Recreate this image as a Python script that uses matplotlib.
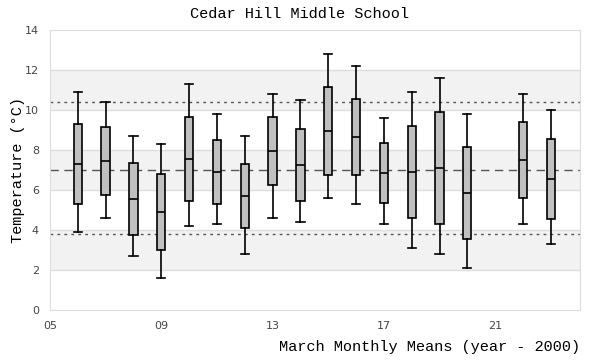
import matplotlib.pyplot as plt

years = [6, 7, 8, 9, 10, 11, 12, 13, 14, 15, 16, 17, 18, 19, 20, 22, 23]
whislo = [3.9, 4.6, 2.7, 1.6, 4.2, 4.3, 2.8, 4.6, 4.4, 5.6, 5.3, 4.3, 3.1, 2.8, 2.1, 4.3, 3.3]
q1 = [5.3, 5.75, 3.75, 3.0, 5.45, 5.3, 4.1, 6.25, 5.45, 6.75, 6.75, 5.35, 4.6, 4.3, 3.55, 5.6, 4.55]
med = [7.3, 7.45, 5.55, 4.9, 7.55, 6.9, 5.7, 7.95, 7.25, 8.95, 8.65, 6.85, 6.9, 7.1, 5.85, 7.5, 6.55]
q3 = [9.3, 9.15, 7.35, 6.8, 9.65, 8.5, 7.3, 9.65, 9.05, 11.15, 10.55, 8.35, 9.2, 9.9, 8.15, 9.4, 8.55]
whishi = [10.9, 10.4, 8.7, 8.3, 11.3, 9.8, 8.7, 10.8, 10.5, 12.8, 12.2, 9.6, 10.9, 11.6, 9.8, 10.8, 10.0]

mean_line = 7.0
upper_line = 10.4
lower_line = 3.8

xticks = [5, 9, 13, 17, 21]
xticklabels = ["05", "09", "13", "17", "21"]
yticks = [0, 2, 4, 6, 8, 10, 12, 14]

mono = "Liberation Mono"


def main():
    fig = plt.figure(figsize=(6, 3.6), dpi=100)
    ax = fig.add_axes([50 / 600, 50 / 360, 530 / 600, 280 / 360])

    # shaded bands
    for lo in (2, 6, 10):
        ax.axhspan(lo, lo + 2, color="#f2f2f2", zorder=0, lw=0)
    for y in yticks[1:-1]:
        ax.axhline(y, color="#dddddd", lw=1, zorder=0.5)

    ax.axhline(upper_line, color="#555555", lw=1, ls=(0, (2, 3)), zorder=1)
    ax.axhline(lower_line, color="#555555", lw=1, ls=(0, (2, 3)), zorder=1)
    ax.axhline(mean_line, color="#555555", lw=1, ls=(0, (6, 4)), zorder=1)

    stats = []
    for i in range(len(years)):
        stats.append({"whislo": whislo[i], "q1": q1[i], "med": med[i],
                      "q3": q3[i], "whishi": whishi[i], "fliers": []})

    ax.bxp(stats, positions=years, widths=0.3, patch_artist=True,
           showfliers=False, manage_ticks=False,
           boxprops=dict(facecolor="#c0c0c0", edgecolor="black", lw=1.2),
           medianprops=dict(color="black", lw=1.2),
           whiskerprops=dict(color="black", lw=1.2),
           capprops=dict(color="black", lw=1.2),
           capwidths=0.3, zorder=3)

    ax.set_xlim(5, 24.05)
    ax.set_ylim(0, 14)
    ax.set_xticks(xticks)
    ax.set_xticklabels(xticklabels)
    ax.set_yticks(yticks)
    ax.tick_params(length=0, labelsize=8, colors="#444444", pad=8)
    for s in ax.spines.values():
        s.set_color("#dddddd")

    fig.text(0.5, 1 - 14 / 360, "Cedar Hill Middle School", ha="center",
             va="center", fontsize=11, family=mono)
    fig.text(580 / 600, 1 - 347 / 360, "March Monthly Means (year - 2000)",
             ha="right", va="center", fontsize=11, family=mono)
    fig.text(18 / 600, 1 - 170 / 360, "Temperature (\u00b0C)", rotation=90,
             ha="center", va="center", fontsize=11, family=mono)

    fig.savefig("out.png", dpi=100)


if __name__ == "__main__":
    main()
